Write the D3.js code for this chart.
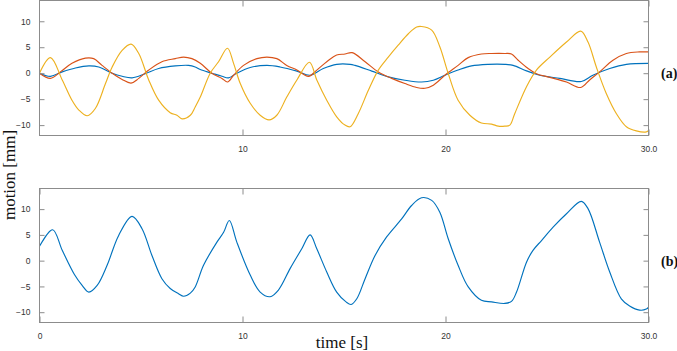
<!DOCTYPE html>
<html><head><meta charset="utf-8">
<script src="https://cdn.jsdelivr.net/npm/d3@7"></script>
<style>body{margin:0;background:#fff}svg{display:block}</style>
</head><body>
<svg id="c" width="677" height="351"></svg>
<script>
// ---- data ----
const yellowT = [0,0.54,1.12,1.6,1.94,2.35,2.75,3.25,3.58,4.07,4.51,4.89,5.38,5.87,6.44,6.77,7.02,7.43,7.67,7.92,8.41,8.82,9.26,9.56,9.89,10.38,10.87,11.31,11.69,12.18,12.68,13.3,13.66,14.15,14.64,15.05,15.3,15.7,16.2,16.69,17.18,17.67,18.17,18.58,18.82,19.32,19.72,20.13,20.62,21.2,21.77,22.27,22.6,22.92,23.17,23.41,23.99,24.48,25.14,25.96,26.66,27.02,27.43,27.92,28.42,28.91,29.4,29.89,30];
const yellowV = [0,3.0,-1.3,-5.2,-7.1,-8.2,-6.8,-2.0,1.2,4.4,5.6,3.8,-1.3,-5.2,-7.6,-8.1,-8.8,-8.1,-6.5,-4.6,0,2.2,4.8,1.9,-2.0,-5.8,-8.1,-9.0,-8.1,-4.6,-1.3,2.1,-1.3,-5.2,-8.4,-10.0,-10.3,-7.8,-3.3,0.6,3.1,5.4,7.6,8.9,9.0,8.3,5.1,0,-5.2,-8.1,-9.6,-9.8,-10.2,-10.2,-10.0,-7.8,-2.6,0.6,3.1,6.0,8.1,6.0,1.2,-3.9,-7.8,-10.3,-11.1,-11.3,-11.0];
const orangeT = [0,0.54,1.03,1.6,2.26,2.67,3.08,3.58,4.07,4.51,4.89,5.38,6.03,6.69,7.1,7.51,7.92,8.49,8.99,9.26,9.56,10.05,10.71,11.2,11.69,12.18,12.68,13.25,13.66,14.15,14.64,15.05,15.4,16.04,16.69,17.35,18.0,18.58,18.99,19.4,19.97,20.62,21.12,21.77,22.27,22.92,23.25,23.58,24.07,24.48,25.14,25.96,26.66,27.1,27.59,28.25,28.91,29.56,30];
const orangeV = [0,-1.0,0.25,1.9,2.9,2.8,1.5,0,-1.2,-1.9,-1.0,0.6,2.2,2.8,3.1,2.8,1.9,0,-1.0,-1.7,-0.4,1.5,2.8,3.1,2.8,1.5,0.6,-0.6,0.6,2.2,3.5,3.7,3.95,2.2,0.25,-1.0,-2.0,-2.75,-2.9,-2.3,-0.4,1.5,3.0,3.7,3.8,3.8,3.7,2.5,0.9,-0.1,-0.8,-1.7,-2.75,-1.3,0.25,2.5,3.8,4.1,4.1];
const blueT = [0,0.54,1.12,1.77,2.43,2.92,3.58,4.07,4.56,5.21,5.87,6.69,7.34,7.67,7.92,8.49,8.99,9.31,9.72,10.38,11.2,11.85,12.68,13.33,13.98,14.64,15.3,15.54,16.37,17.18,18.0,18.82,19.4,19.97,20.62,21.28,22.1,22.92,23.33,23.99,24.64,25.63,26.69,27.26,28.09,28.91,30];
const blueV = [0,-0.6,0.25,1.0,1.4,1.2,0,-0.6,-0.9,-0.1,0.9,1.4,1.5,1.2,0.7,0,-0.6,-0.9,0,1.1,1.5,1.2,0.4,-0.4,0.9,1.7,1.7,1.5,0.4,-0.7,-1.35,-1.7,-1.35,-0.4,0.6,1.4,1.7,1.7,1.5,0.45,-0.4,-1.0,-1.6,-0.4,0.9,1.7,1.9];
const bottomT = [0,0.65,1.12,1.72,2.1,2.43,2.84,3.33,3.9,4.56,5.05,5.54,6.03,6.44,6.85,7.1,7.43,7.67,8.08,8.74,9.07,9.35,9.72,10.38,10.87,11.36,11.77,12.35,12.92,13.33,13.66,14.15,14.64,15.1,15.35,15.63,16.04,16.53,17.1,17.84,18.33,18.82,19.32,19.72,20.13,20.62,21.12,21.77,22.27,22.92,23.25,23.5,23.99,24.31,24.73,25.3,25.96,26.69,27.02,27.59,28.09,28.66,29.07,29.56,29.89,30];
const bottomV = [2.8,6.0,2.0,-2.7,-4.8,-6.1,-4.8,-0.9,4.9,8.6,6.2,1.0,-3.5,-5.4,-6.4,-6.9,-6.3,-5.1,-0.9,3.6,5.5,7.8,3.6,-2.8,-6.1,-7.0,-5.7,-1.5,2.3,5.0,2.3,-2.2,-6.1,-8.0,-8.5,-7.4,-3.5,1.0,4.6,8.1,10.7,12.2,11.7,9.4,4.3,-0.9,-5.1,-7.7,-8.0,-8.3,-7.9,-6.1,-0.3,2.0,3.9,6.5,9.1,11.5,10.1,3.6,-2.2,-7.4,-8.8,-9.6,-9.4,-9.0];
const yTicks = [-10,-5,0,5,10];
const xTicksTop = [10,20,30];
const xTicksBottom = [0,10,20,30];
const xTickLabel = v => v === 30 ? "30.0" : String(v);

// ---- drawing ----
const svg = d3.select("#c");
const colors = {blue:"#0072BD", orange:"#D95319", yellow:"#EDB120"};
const x = d3.scaleLinear().domain([0,30]).range([39.5,648.5]);

function panel(top, bottom, series, xTicks, tag){
  const y = d3.scaleLinear().domain([-12,14]).range([bottom, top]);
  const g = svg.append("g");
  const clipId = "clip" + tag.replace(/\W/g,"");
  g.append("clipPath").attr("id", clipId).append("rect")
    .attr("x", x.range()[0]).attr("y", top).attr("width", x.range()[1]-x.range()[0]).attr("height", bottom-top);
  const line = d3.line().x(d=>x(d[0])).y(d=>y(d[1])).curve(d3.curveCatmullRom.alpha(0.5));
  const lg = g.append("g").attr("clip-path", `url(#${clipId})`);
  series.forEach(s => {
    lg.append("path").datum(d3.zip(s.t, s.v)).attr("d", line)
      .attr("fill","none").attr("stroke", s.color).attr("stroke-width",1.15).attr("stroke-linejoin","round");
  });
  g.append("rect").attr("x", x.range()[0]).attr("y", top).attr("width", x.range()[1]-x.range()[0]).attr("height", bottom-top)
    .attr("fill","none").attr("stroke","#8c8c8c").attr("stroke-width",1);
  const tickStyle = sel => { sel.select(".domain").remove(); sel.selectAll("line").attr("stroke","#8c8c8c");
    sel.selectAll("text").attr("fill","#333").style("font-family","'Liberation Sans', Arial, sans-serif").style("font-size","8.5px"); };
  g.append("g").attr("transform",`translate(0,${bottom})`)
    .call(d3.axisBottom(x).tickValues(xTicks).tickFormat(xTickLabel).tickSizeInner(-6).tickSizeOuter(0).tickPadding(10))
    .call(tickStyle);
  g.append("g").attr("transform",`translate(0,${top})`)
    .call(d3.axisTop(x).tickValues(xTicks).tickFormat("").tickSizeInner(-6).tickSizeOuter(0))
    .call(tickStyle);
  g.append("g").attr("transform",`translate(${x.range()[0]},0)`)
    .call(d3.axisLeft(y).tickValues(yTicks).tickFormat(d3.format("d")).tickSizeInner(-5).tickSizeOuter(0).tickPadding(9))
    .call(tickStyle);
  g.append("g").attr("transform",`translate(${x.range()[1]},0)`)
    .call(d3.axisRight(y).tickValues(yTicks).tickFormat("").tickSizeInner(-5).tickSizeOuter(0))
    .call(tickStyle);
  g.append("text").attr("x", 661).attr("y", y(0)).attr("dy","0.35em")
    .style("font-family","'Liberation Serif','Times New Roman',serif").style("font-weight","bold").style("font-size","14px")
    .attr("fill","#111").text(tag);
}

panel(0.5, 135.5, [
  {t: blueT, v: blueV, color: colors.blue},
  {t: orangeT, v: orangeV, color: colors.orange},
  {t: yellowT, v: yellowV, color: colors.yellow}
], xTicksTop, "(a)");

panel(188.5, 322.5, [
  {t: bottomT, v: bottomV, color: colors.blue}
], xTicksBottom, "(b)");

svg.append("text").attr("transform","translate(15,175) rotate(-90)").attr("text-anchor","middle")
  .style("font-family","'Liberation Serif','Times New Roman',serif").style("font-size","17px").attr("fill","#111")
  .text("motion [mm]");
svg.append("text").attr("x", 342).attr("y", 348).attr("text-anchor","middle")
  .style("font-family","'Liberation Serif','Times New Roman',serif").style("font-size","17px").attr("fill","#111")
  .text("time [s]");
</script>
</body></html>
